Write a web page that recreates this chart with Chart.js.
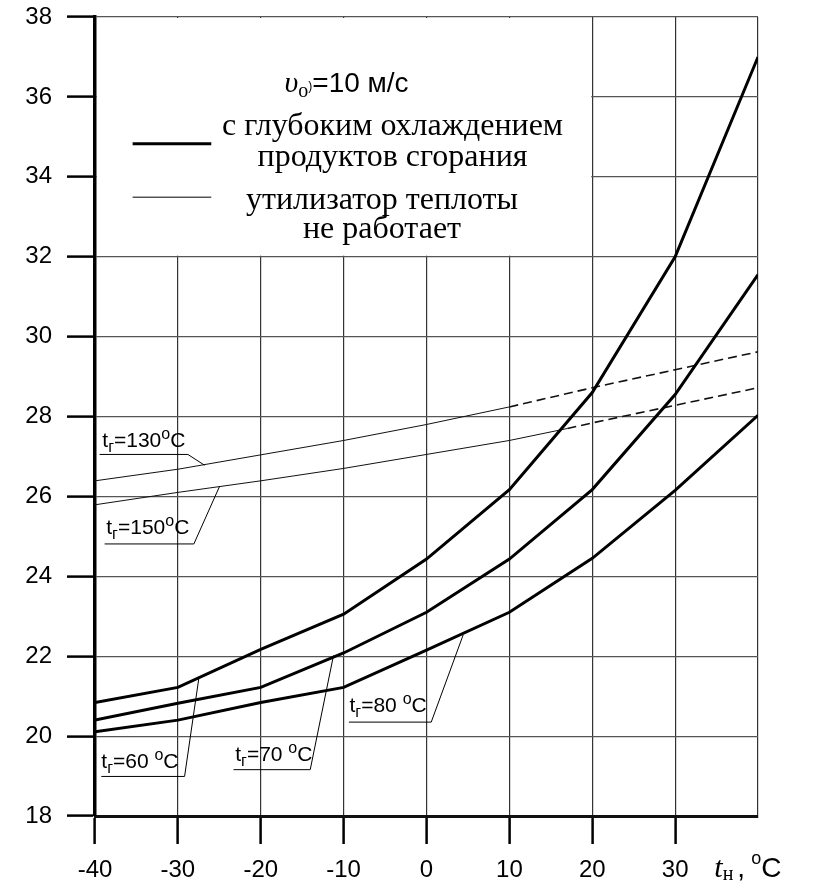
<!DOCTYPE html>
<html>
<head>
<meta charset="utf-8">
<script src="https://cdn.jsdelivr.net/npm/chart.js@4.4.1/dist/chart.umd.min.js"></script>
<style>
  html, body { margin: 0; padding: 0; background: #fff; }
  #wrap { width: 816px; height: 887px; }
</style>
</head>
<body>
<div id="wrap"><canvas id="chart"></canvas></div>
<script>
// t_н, °C
const tempOutside = [-40, -30, -20, -10, 0, 10, 20, 30, 40];
const xTicks = [-40, -30, -20, -10, 0, 10, 20, 30];
const yTicks = [18, 20, 22, 24, 26, 28, 30, 32, 34, 36, 38];

// с глубоким охлаждением продуктов сгорания
const deep60 = [20.84, 21.22, 22.17, 23.05, 24.43, 26.17, 28.6, 32.0, 37.0];
const deep70 = [20.4, 20.82, 21.22, 22.08, 23.1, 24.43, 26.17, 28.55, 31.55];
const deep80 = [20.11, 20.4, 20.84, 21.22, 22.15, 23.1, 24.45, 26.15, 28.03];

// утилизатор теплоты не работает
const off130 = [26.39, 26.68, 27.04, 27.4, 27.8, 28.24, 28.72, 29.17, 29.62];
const off150x = [-40, -30, -20, -10, 0, 10, 17, 20, 30, 40];
const off150 = [25.79, 26.1, 26.39, 26.7, 27.05, 27.4, 27.7, 27.84, 28.28, 28.72];

const SANS = '"Liberation Sans", Arial, sans-serif';
const SERIF = '"Liberation Serif", "Times New Roman", serif';

function pts(xs, ys) {
  return xs.map((x, i) => ({ x: x, y: ys[i] }));
}

// curve labels: text, where the text starts, underline and leader end
const curveLabels = [
  { num: '130', sp: '', at: [-39.12, 27.24], ul: [-39.45, -28.79, 27.05], end: [-26.78, 26.78] },
  { num: '150', sp: '', at: [-38.64, 25.07], ul: [-38.84, -28.07, 24.81], end: [-24.97, 26.25] },
  { num: '60', sp: ' ', at: [-39.24, 19.21], ul: [-39.24, -29.19, 18.99], end: [-27.47, 21.45] },
  { num: '70', sp: ' ', at: [-23.08, 19.38], ul: [-23.28, -14.03, 19.16], end: [-11.22, 22.02] },
  { num: '80', sp: ' ', at: [-9.29, 20.6], ul: [-9.37, 0.57, 20.35], end: [4.42, 22.53] }
];

function drawParts(ctx, x, y, parts) {
  ctx.textAlign = 'left';
  ctx.textBaseline = 'alphabetic';
  parts.forEach(p => {
    ctx.font = p.font;
    ctx.fillText(p.t, x, y + (p.dy || 0));
    x += ctx.measureText(p.t).width + (p.gap || 0);
  });
}

const annotations = {
  id: 'annotations',
  beforeDatasetsDraw(chart) {
    const { ctx, chartArea } = chart;
    const sx = chart.scales.x, sy = chart.scales.y;
    // white legend box over the grid
    const bx = sx.getPixelForValue(20), by = sy.getPixelForValue(32);
    ctx.save();
    ctx.fillStyle = '#fff';
    ctx.fillRect(chartArea.left + 2, chartArea.top + 1, bx - chartArea.left - 3, by - chartArea.top - 2);
    ctx.restore();
  },
  afterDatasetsDraw(chart) {
    const { ctx, chartArea } = chart;
    const sx = chart.scales.x, sy = chart.scales.y;
    const X = v => sx.getPixelForValue(v), Y = v => sy.getPixelForValue(v);
    ctx.save();
    ctx.fillStyle = '#000';
    ctx.strokeStyle = '#000';

    // legend
    drawParts(ctx, X(-17.13), Y(36.12), [
      { t: '\u03c5', font: 'italic 30px ' + SERIF },
      { t: '\u043e', font: '20px ' + SERIF, dy: 5 },
      { t: ')', font: '12px ' + SANS, dy: -2 },
      { t: '=10 м/с', font: '28px ' + SANS }
    ]);
    ctx.lineWidth = 3;
    ctx.beginPath();
    ctx.moveTo(X(-35.46), Y(34.83));
    ctx.lineTo(X(-25.97), Y(34.83));
    ctx.stroke();
    ctx.lineWidth = 1;
    ctx.beginPath();
    ctx.moveTo(X(-35.46), Y(33.49));
    ctx.lineTo(X(-25.97), Y(33.49));
    ctx.stroke();
    ctx.font = '32px ' + SERIF;
    ctx.textAlign = 'center';
    ctx.textBaseline = 'alphabetic';
    ctx.fillText('с глубоким охлаждением', X(-4.1), Y(35.04));
    ctx.fillText('продуктов сгорания', X(-4.1), Y(34.27));
    ctx.fillText('утилизатор теплоты', X(-5.37), Y(33.19));
    ctx.fillText('не работает', X(-5.37), Y(32.46));

    // curve labels with leaders
    curveLabels.forEach(l => {
      drawParts(ctx, X(l.at[0]), Y(l.at[1]), [
        { t: 't', font: '21px ' + SANS },
        { t: 'г', font: '16px ' + SANS, dy: 5 },
        { t: '=' + l.num + l.sp, font: '21px ' + SANS },
        { t: 'o', font: '16px ' + SANS, dy: -8 },
        { t: 'C', font: '21px ' + SANS }
      ]);
      ctx.lineWidth = 1;
      ctx.beginPath();
      ctx.moveTo(X(l.ul[0]), Y(l.ul[2]));
      ctx.lineTo(X(l.ul[1]), Y(l.ul[2]));
      ctx.lineTo(X(l.end[0]), Y(l.end[1]));
      ctx.stroke();
    });

    // x axis title
    const base = chartArea.bottom + 61;
    drawParts(ctx, X(34.73), base, [
      { t: 't', font: 'italic 30px ' + SERIF },
      { t: 'н', font: '20px ' + SERIF, dy: 3, gap: 4 },
      { t: ',', font: '28px ' + SANS, gap: 6 },
      { t: 'o', font: '18px ' + SANS, dy: -13 },
      { t: 'C', font: '28px ' + SANS }
    ]);
    ctx.restore();
  }
};

const thick = { borderColor: '#000', borderWidth: 3, pointRadius: 0, tension: 0, fill: false };
const thin = { borderColor: '#111', borderWidth: 1, pointRadius: 0, tension: 0, fill: false };

new Chart(document.getElementById('chart'), {
  type: 'line',
  data: {
    datasets: [
      Object.assign({ label: 't=60', data: pts(tempOutside, deep60) }, thick),
      Object.assign({ label: 't=70', data: pts(tempOutside, deep70) }, thick),
      Object.assign({ label: 't=80', data: pts(tempOutside, deep80) }, thick),
      Object.assign({ label: 't=130', data: pts(tempOutside, off130),
        segment: { borderDash: c => c.p0DataIndex >= 5 ? [9, 5] : undefined,
                   borderWidth: c => c.p0DataIndex >= 5 ? 1.6 : 1 } }, thin),
      Object.assign({ label: 't=150', data: pts(off150x, off150),
        segment: { borderDash: c => c.p0DataIndex >= 6 ? [9, 5] : undefined,
                   borderWidth: c => c.p0DataIndex >= 6 ? 1.6 : 1 } }, thin)
    ]
  },
  options: {
    responsive: true,
    maintainAspectRatio: false,
    animation: false,
    events: [],
    layout: { padding: { top: 17, right: 58, left: 0, bottom: 0 } },
    plugins: { legend: { display: false }, tooltip: { enabled: false } },
    scales: {
      x: {
        type: 'linear',
        min: -40,
        max: 40,
        afterBuildTicks: s => { s.ticks = tempOutside.map(v => ({ value: v })); },
        afterFit: s => { s.height = 71; s.paddingLeft = 0; s.paddingRight = 0; },
        ticks: {
          font: { family: SANS, size: 24 },
          color: '#000',
          padding: 12,
          maxRotation: 0,
          autoSkip: false,
          callback: v => xTicks.includes(v) ? String(v) : ''
        },
        grid: {
          color: '#333',
          lineWidth: 1.2,
          tickLength: 28,
          tickWidth: 2.5,
          tickColor: c => (c.tick && c.tick.value === 40) ? 'rgba(0,0,0,0)' : '#000'
        },
        border: { display: true, color: '#111', width: 3 }
      },
      y: {
        type: 'linear',
        min: 18,
        max: 38,
        afterBuildTicks: s => { s.ticks = yTicks.map(v => ({ value: v })); },
        afterFit: s => { s.width = 95; s.paddingTop = 0; s.paddingBottom = 0; },
        ticks: {
          font: { family: SANS, size: 24 },
          color: '#000',
          padding: 15
        },
        grid: {
          color: '#555',
          lineWidth: 1.2,
          tickLength: 28,
          tickWidth: 2.5,
          tickColor: '#000'
        },
        border: { display: true, color: '#000', width: 3.5 }
      }
    }
  },
  plugins: [annotations]
});
</script>
</body>
</html>
